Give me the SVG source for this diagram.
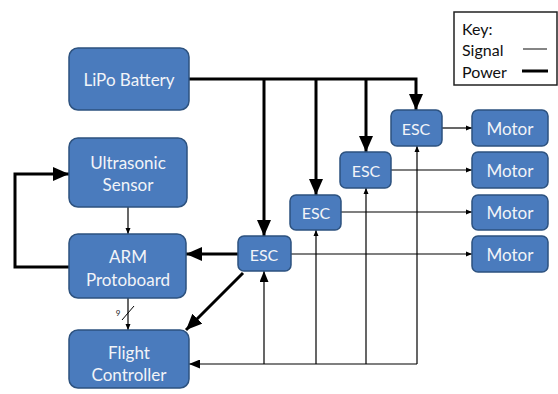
<svg xmlns="http://www.w3.org/2000/svg" width="558" height="394" viewBox="0 0 558 394">
<style>
.n{fill:#4a7bbd;stroke:#2d527f;stroke-width:1.5}
.t{font-family:Lato,"Open Sans",sans-serif;font-size:17px;fill:#f2f4f8;text-anchor:middle;dominant-baseline:central}
.e{font-size:16px}
.k{font-family:Lato,"Open Sans",sans-serif;font-size:16px;fill:#111;dominant-baseline:central}
.p{fill:none;stroke:#000;stroke-width:3}
.s{fill:none;stroke:#000;stroke-width:1.2}
</style>
<defs>
<marker id="ap" markerUnits="userSpaceOnUse" markerWidth="16" markerHeight="14" viewBox="0 0 16 14" refX="16" refY="7" orient="auto"><path d="M0,0L16,7L0,14z" fill="#000"/></marker>
<marker id="am" markerUnits="userSpaceOnUse" markerWidth="11" markerHeight="9" viewBox="0 0 11 9" refX="11" refY="4.5" orient="auto"><path d="M0,0L11,4.5L0,9z" fill="#000"/></marker>
<marker id="as" markerUnits="userSpaceOnUse" markerWidth="6" markerHeight="6" viewBox="0 0 6 6" refX="6" refY="3" orient="auto"><path d="M0,0.5L6,3L0,5.5z" fill="#000"/></marker>
</defs>
<rect x="0" y="0" width="558" height="394" fill="#fff"/>
<g id="key">
<rect x="454" y="12" width="103" height="73" fill="#fff" stroke="#222" stroke-width="1.5"/>
<text class="k" x="462" y="28">Key:</text>
<text class="k" x="462" y="49">Signal</text>
<text class="k" x="462" y="71">Power</text>
<line x1="523" y1="49" x2="547" y2="49" stroke="#333" stroke-width="1.2"/>
<line x1="522" y1="71" x2="548" y2="71" stroke="#000" stroke-width="3"/>
</g>
<g id="connectors">
<path class="p" d="M189,79H416V110" marker-end="url(#ap)"/>
<path class="p" d="M264,79V236" marker-end="url(#ap)"/>
<path class="p" d="M316,79V195" marker-end="url(#ap)"/>
<path class="p" d="M366,79V152" marker-end="url(#ap)"/>
<path class="p" d="M69,267H15V174H69" marker-end="url(#ap)"/>
<path class="p" d="M238,254H186" marker-end="url(#ap)"/>
<path class="p" d="M243,273L186,330" marker-end="url(#ap)"/>
<path class="s" d="M128,207V234" marker-end="url(#as)"/>
<path class="s" d="M128,298V330" marker-end="url(#as)"/>
<line x1="122" y1="320" x2="134" y2="306" stroke="#000" stroke-width="1"/>
<text x="118" y="313" font-family="Lato,sans-serif" font-size="8" fill="#222" text-anchor="middle" dominant-baseline="central">9</text>
<path class="s" d="M417,364H189" marker-end="url(#am)"/>
<path class="s" d="M264,364V271" marker-end="url(#am)"/>
<path class="s" d="M316,364V230" marker-end="url(#as)"/>
<path class="s" d="M366,364V188" marker-end="url(#as)"/>
<path class="s" d="M417,364V146" marker-end="url(#as)"/>
<path class="s" d="M442,128H472" marker-end="url(#as)"/>
<path class="s" d="M391,170H472" marker-end="url(#as)"/>
<path class="s" d="M341,212H472" marker-end="url(#as)"/>
<path class="s" d="M291,254H472" marker-end="url(#as)"/>
</g>
<g id="lipo"><rect class="n" x="69" y="48" width="120" height="62" rx="9"/><text class="t" x="129" y="79">LiPo Battery</text></g>
<g id="ultrasonic"><rect class="n" x="69" y="138" width="118" height="69" rx="9"/><text class="t" x="128" y="162">Ultrasonic</text><text class="t" x="128" y="184">Sensor</text></g>
<g id="arm"><rect class="n" x="69" y="234" width="117" height="64" rx="9"/><text class="t" x="128" y="256">ARM</text><text class="t" x="128" y="279">Protoboard</text></g>
<g id="flight"><rect class="n" x="69" y="330" width="120" height="58" rx="9"/><text class="t" x="129" y="352">Flight</text><text class="t" x="129" y="374">Controller</text></g>
<g id="esc1"><rect class="n" x="238" y="236" width="53" height="35" rx="6"/><text class="t e" x="264" y="254">ESC</text></g>
<g id="esc2"><rect class="n" x="290" y="195" width="51" height="35" rx="6"/><text class="t e" x="316" y="212">ESC</text></g>
<g id="esc3"><rect class="n" x="340" y="152" width="51" height="36" rx="6"/><text class="t e" x="366" y="170">ESC</text></g>
<g id="esc4"><rect class="n" x="391" y="110" width="51" height="36" rx="6"/><text class="t e" x="416" y="128">ESC</text></g>
<g id="motor1"><rect class="n" x="472" y="110" width="76" height="36" rx="6"/><text class="t" x="510" y="128">Motor</text></g>
<g id="motor2"><rect class="n" x="472" y="152" width="76" height="36" rx="6"/><text class="t" x="510" y="170">Motor</text></g>
<g id="motor3"><rect class="n" x="472" y="195" width="76" height="35" rx="6"/><text class="t" x="510" y="212">Motor</text></g>
<g id="motor4"><rect class="n" x="472" y="236" width="76" height="36" rx="6"/><text class="t" x="510" y="254">Motor</text></g>
</svg>
